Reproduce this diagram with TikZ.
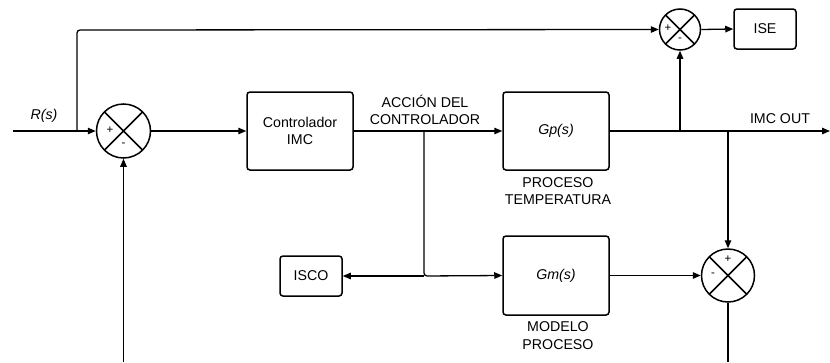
\documentclass[tikz,border=0pt]{standalone}
\usepackage{fontspec}
\setmainfont{Liberation Sans}
\usetikzlibrary{arrows.meta}
\tikzset{
  blk/.style={draw, line width=1.5pt, rounded corners=3pt, inner sep=0pt, font=\fontsize{14.2}{17.5}\selectfont, align=center},
  sumj/.style={draw, circle, line width=1.5pt, inner sep=0pt,
    path picture={\draw[line width=1.5pt] (path picture bounding box.north west) -- (path picture bounding box.south east)
      (path picture bounding box.north east) -- (path picture bounding box.south west);}},
  lbl/.style={font=\fontsize{14.2}{17.5}\selectfont, align=center, inner sep=0pt},
  sgn/.style={font=\fontsize{11.5}{11.5}\selectfont, inner sep=0pt},
  wire/.style={line width=1.3pt, rounded corners=3pt},
  arr/.style={wire, -{Triangle[length=8pt,width=6.5pt]}}
}
\begin{document}
\begin{tikzpicture}[x=1pt,y=-1pt]
\useasboundingbox (0,0) rectangle (830,362);
% blocks
\node[blk, minimum width=106pt, minimum height=78pt] (ctrl) at (300,131) {Controlador\\IMC};
\node[blk, minimum width=106pt, minimum height=78pt] (gp) at (556,131) {\itshape Gp(s)};
\node[blk, minimum width=106pt, minimum height=79pt] (gm) at (556,275.5) {\itshape Gm(s)};
\node[blk, minimum width=62pt, minimum height=40pt] (ise) at (765,29) {ISE};
\node[blk, minimum width=62pt, minimum height=40pt] (isco) at (311,276) {ISCO};
% summing junctions
\node[sumj, minimum size=54pt] (s1) at (123.5,131) {};
\node[sumj, minimum size=41pt] (s2) at (680,29.5) {};
\node[sumj, minimum size=53pt] (s3) at (728,275.5) {};
\node[sgn] (s1p) at (110,130) {+};
\node[sgn] (s1m) at (123.5,145) {-};
\node[sgn] (s2p) at (668,28) {+};
\node[sgn] (s2m) at (680,40) {-};
\node[sgn] (s3p) at (728,259.5) {+};
\node[sgn] (s3m) at (713,275) {-};
% labels
\node[lbl, font=\fontsize{14.2}{17.5}\selectfont\itshape] (rs) at (44,116) {R(s)};
\node[lbl] (accion) at (425,110) {ACCIÓN DEL\\CONTROLADOR};
\node[lbl] (ptemp) at (558,191) {PROCESO\\TEMPERATURA};
\node[lbl] (mproc) at (558,335.5) {MODELO\\PROCESO};
\node[lbl] (imcout) at (780,119) {IMC OUT};
% coordinates
\coordinate (in) at (13,131);
\coordinate (b1) at (77,131);
\coordinate (b2) at (424,131);
\coordinate (b3) at (424,276);
\coordinate (b4) at (680,131);
\coordinate (b5) at (728,131);
\coordinate (out) at (830,131);
\coordinate (bot1) at (123.5,362);
\coordinate (bot3) at (728,362);
% wires
\draw[arr] (in) -- (s1.west);
\draw[arr] (b1) -- (77,30) -- (s2.west);
\draw[arr] (s1.east) -- (ctrl.west);
\draw[arr] (ctrl.east) -- (gp.west);
\draw[arr] (b2) -- (b3) -- (gm.west);
\draw[arr] (b3) -- (isco.east);
\draw[arr] (gp.east) -- (out);
\draw[arr] (b4) -- (s2.south);
\draw[arr] (s2.east) -- (ise.west);
\draw[arr] (b5) -- (s3.north);
\draw[arr] (gm.east) -- (s3.west);
\draw[wire] (s3.south) -- (bot3);
\draw[arr] (bot1) -- (s1.south);
\end{tikzpicture}
\end{document}
